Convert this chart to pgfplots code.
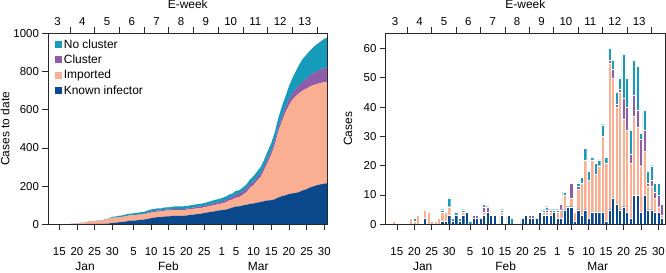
\documentclass[border=0pt]{standalone}
\usepackage{fontspec}
\setmainfont{Liberation Sans}
\usepackage{pgfplots}
\pgfplotsset{compat=1.18}
\usepackage{pgfplotstable}

\definecolor{cNC}{RGB}{22,155,186}
\definecolor{cCL}{RGB}{142,92,168}
\definecolor{cIM}{RGB}{250,174,146}
\definecolor{cKI}{RGB}{12,72,140}
\definecolor{axc}{RGB}{40,40,40}

\newcommand{\tickfont}{\fontsize{11.5}{12}\selectfont}
\newcommand{\labfont}{\fontsize{12}{13}\selectfont}

% cumulative cases to date (x = day of year 2020)
\pgfplotstableread{
day K I C N
14 0 1 0 0
15 0 1 0 0
16 0 1 0 0
17 0 1 0 0
18 0 1 0 0
19 0 3 0 0
20 0 4 0 1
21 0 7 0 1
22 0 7 0 1
23 2 10 0 1
24 2 14 0 1
25 2 15 0 1
26 2 16 0 1
27 2 18 0 1
28 3 21 0 2
29 4 24 0 2
30 7 27 0 5
31 8 27 0 6
32 11 27 0 7
33 12 27 0 8
34 15 28 0 9
35 19 28 0 9
36 19 28 0 10
37 21 28 1 10
38 23 28 2 10
39 25 28 2 10
40 28 29 4 11
41 32 29 6 11
42 35 29 6 11
43 38 29 6 11
44 38 29 6 11
45 41 30 6 12
46 41 30 6 12
47 44 30 6 12
48 44 30 6 14
49 44 30 6 14
50 44 30 6 14
51 46 30 6 14
52 49 30 6 14
53 51 30 7 14
54 53 30 8 14
55 55 30 8 14
56 59 30 8 14
57 62 31 8 15
58 65 32 9 16
59 68 33 10 16
60 72 33 10 17
61 74 35 10 18
62 76 38 12 18
63 81 43 12 19
64 87 43 12 19
65 93 46 17 19
66 94 49 17 19
67 99 56 18 20
68 102 67 18 22
69 107 84 18 26
70 109 97 18 29
71 113 115 18 30
72 117 131 18 34
73 121 164 18 36
74 125 200 19 40
75 126 238 20 42
76 131 285 21 46
77 140 345 23 49
78 147 392 25 53
79 152 432 28 57
80 158 465 31 70
81 162 490 34 80
82 164 508 37 95
83 170 518 41 110
84 178 524 46 120
85 184 527 52 126
86 193 529 58 130
87 199 530 63 136
88 205 530 67 142
89 209 531 70 148
90 213 531 73 154
91 215 531 76 158
}\cumtab

% daily cases (x = day of year 2020)
\pgfplotstableread{
day k i c n
14 0 1 0 0
19 0 2 0 0
20 0 1 0 1
21 0 3 0 0
23 2 3 0 0
24 0 4 0 0
25 0 1 0 0
26 0 1 0 0
27 0 2 0 0
28 1 3 0 1
29 1 3 0 0
30 3 3 0 3
31 1 0 0 1
32 3 0 0 1
33 1 0 0 1
34 3 1 0 1
35 4 0 0 0
36 0 0 0 1
37 2 0 1 0
38 2 0 1 0
39 2 0 0 0
40 3 1 2 1
41 4 0 2 0
42 3 0 0 0
43 3 0 0 0
45 3 1 0 1
47 3 0 0 0
48 0 0 0 2
51 2 0 0 0
52 3 0 0 0
53 2 0 1 0
54 2 0 1 0
55 2 0 0 0
56 4 0 0 0
57 3 1 0 1
58 3 1 1 1
59 3 1 1 0
60 4 0 0 1
61 2 2 0 1
62 2 3 2 0
63 5 5 0 1
64 6 0 0 0
65 6 3 5 0
66 1 3 0 0
67 5 7 1 1
68 3 11 0 2
69 5 17 0 4
70 2 13 0 3
71 4 18 0 1
72 4 13 0 4
73 4 16 0 2
74 4 26 0 4
75 1 20 0 2
76 5 50 1 4
77 9 41 3 3
78 7 33 1 4
79 5 40 1 4
80 6 30 7 15
81 4 28 8 10
82 2 19 3 8
83 10 27 7 12
84 10 23 6 15
85 4 16 9 2
86 10 15 7 7
87 5 8 1 4
88 5 8 2 5
89 4 5 2 3
90 4 2 4 4
91 2 1 4 0
}\daytab

\pgfplotsset{
  panel/.style={
    anchor=south west, scale only axis, height=191bp,
    axis line style={line width=0.7bp, axc},
    every tick/.style={line width=0.7bp, axc},
    tick align=outside, major tick length=5.8bp,
  },
  mainpanel/.style={
    panel, axis on top,
    xtick pos=bottom, ytick pos=left,
    xtick={15,20,25,30,36,41,46,51,56,61,65,70,75,80,85,90},
    xticklabels={15,20,25,30,5,10,15,20,25,1,5,10,15,20,25,30},
    xticklabel style={font=\tickfont, yshift=-14bp},
    yticklabel style={font=\tickfont, /pgf/number format/1000 sep={}, /pgf/number format/assume math mode=true},
    extra x tick style={major tick length=0pt, xticklabel style={yshift=-20bp, font=\labfont}},
    ylabel style={font=\labfont, anchor=center},
  },
  weekpanel/.style={
    panel, ymin=0, ymax=1,
    axis x line*=top, axis y line=none,
    xtick={18,25,32,39,46,53,60,67,74,81,88}, xticklabels={},
    extra x ticks={14.5,21.5,28.5,35.5,42.5,49.5,56.5,63.5,70.5,77.5,84.5},
    extra x tick labels={3,4,5,6,7,8,9,10,11,12,13},
    extra x tick style={major tick length=0pt, xticklabel style={font=\tickfont, yshift=4bp}},
    xlabel={E-week},
    xlabel style={font=\labfont, at={(axis description cs:0.5,1)}, anchor=base, yshift=24.3bp},
  },
}

\begin{document}
\begin{tikzpicture}
\path[use as bounding box] (0,0) rectangle (666bp,273bp);

% ---------------- left panel ----------------
\begin{axis}[
  mainpanel,
  at={(48.3bp,48.7bp)}, width=279bp,
  xmin=11.9, xmax=90.85, ymin=0, ymax=1000,
  ytick={0,200,400,600,800,1000},
  extra x ticks={22.3,45.9,71.3},
  extra x tick labels={Jan,Feb,Mar},
  ylabel={Cases to date},
  ylabel style={at={(axis description cs:-0.155,0.5)}},
  stack plots=y,
  reverse legend,
  legend cell align=left,
  legend image code/.code={\fill[#1] (0bp,-3.4bp) rectangle (6.8bp,3.4bp);},
  legend style={at={(axis description cs:0.02,0.985)}, anchor=north west,
    draw=none, fill=none, font=\labfont, row sep=1.2bp, inner sep=1bp},
]
\addplot[fill=cKI, draw=none] table[x=day, y=K]{\cumtab} \closedcycle;
\addlegendentry{Known infector}
\addplot[fill=cIM, draw=none] table[x=day, y=I]{\cumtab} \closedcycle;
\addlegendentry{Imported}
\addplot[fill=cCL, draw=none] table[x=day, y=C]{\cumtab} \closedcycle;
\addlegendentry{Cluster}
\addplot[fill=cNC, draw=none] table[x=day, y=N]{\cumtab} \closedcycle;
\addlegendentry{No cluster}
\end{axis}
\begin{axis}[weekpanel, at={(48.3bp,48.7bp)}, width=279bp, xmin=11.9, xmax=90.85]
\end{axis}

% ---------------- right panel ----------------
\begin{axis}[
  mainpanel,
  at={(385.7bp,48.7bp)}, width=279.3bp,
  xmin=11.8, xmax=91.9, ymin=0, ymax=65.2,
  ytick={0,10,20,30,40,50,60},
  extra x ticks={22.4,46.2,72.6},
  extra x tick labels={Jan,Feb,Mar},
  ylabel={Cases},
  ylabel style={at={(axis description cs:-0.135,0.5)}},
  ybar stacked, bar width=0.9,
]
\addplot[fill=cKI, draw=white, line width=0.3bp] table[x=day, y=k]{\daytab};
\addplot[fill=cIM, draw=white, line width=0.3bp] table[x=day, y=i]{\daytab};
\addplot[fill=cCL, draw=white, line width=0.3bp] table[x=day, y=c]{\daytab};
\addplot[fill=cNC, draw=white, line width=0.3bp] table[x=day, y=n]{\daytab};
\end{axis}
\begin{axis}[weekpanel, at={(385.7bp,48.7bp)}, width=279.3bp, xmin=11.8, xmax=91.9]
\end{axis}
\end{tikzpicture}
\end{document}
